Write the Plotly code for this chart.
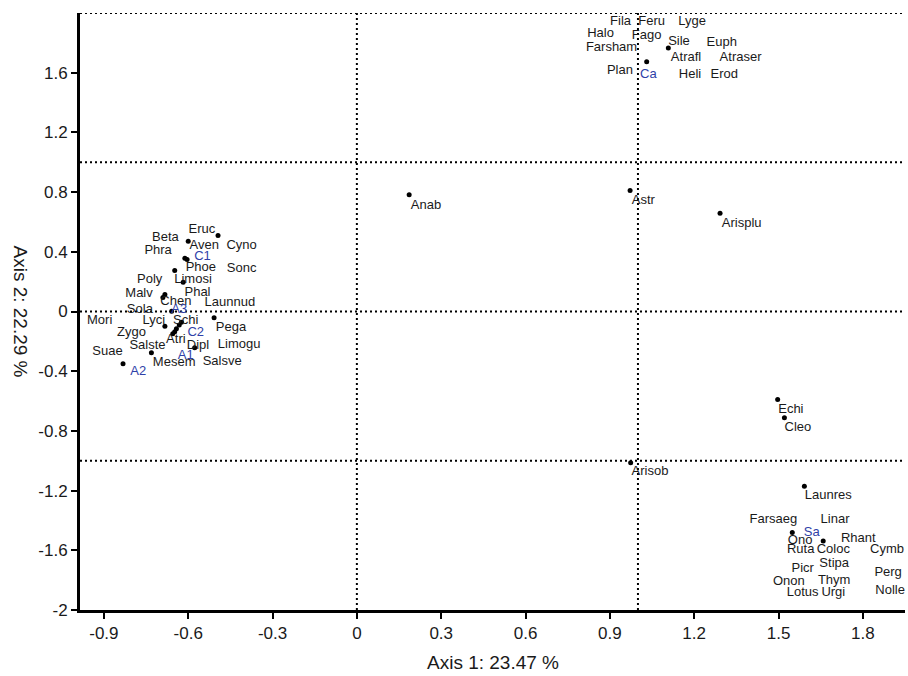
import plotly.graph_objects as go

# Ordination scores plotted as dots (species / site scores)
dot_x = [-0.494, -0.600, -0.612, -0.604, -0.648, -0.618, -0.683, -0.690, -0.659,
         -0.683, -0.624, -0.632, -0.642, -0.648, -0.655, -0.508, -0.577, -0.731, -0.832,
         0.186, 0.972, 1.292, 1.497, 1.521, 0.974, 1.592,
         1.108, 1.031, 1.549, 1.659]
dot_y = [0.509, 0.471, 0.357, 0.348, 0.274, 0.196, 0.114, 0.094, 0.002,
         -0.098, -0.072, -0.090, -0.116, -0.135, -0.149, -0.042, -0.243, -0.276, -0.350,
         0.783, 0.810, 0.658, -0.589, -0.712, -1.013, -1.171,
         1.765, 1.673, -1.481, -1.537]

# Species labels (axis-1, axis-2 coordinates of each label)
species = ["Eruc", "Beta", "Aven", "Cyno", "Phra", "Phoe", "Sonc", "Poly", "Limosi",
           "Malv", "Phal", "Chen", "Launnud", "Sola", "Mori", "Lyci", "Schi", "Pega",
           "Zygo", "Atri", "Salste", "Dipl", "Limogu", "Suae", "Mesem", "Salsve",
           "Anab", "Astr", "Arisplu", "Echi", "Cleo", "Arisob",
           "Fila", "Feru", "Lyge", "Halo", "Fago", "Sile", "Euph", "Farsham",
           "Atrafl", "Atraser", "Plan", "Heli", "Erod",
           "Launres", "Farsaeg", "Linar", "Rhant", "Ono", "Ruta", "Coloc", "Cymb",
           "Picr", "Stipa", "Perg", "Onon", "Thym", "Lotus", "Urgi", "Nolle"]
species_x = [-0.551, -0.681, -0.543, -0.410, -0.707, -0.555, -0.410, -0.737, -0.583,
             -0.775, -0.567, -0.644, -0.452, -0.772, -0.915, -0.722, -0.609, -0.448,
             -0.802, -0.644, -0.745, -0.565, -0.419, -0.887, -0.650, -0.479,
             0.246, 1.019, 1.369, 1.544, 1.569, 1.043,
             0.938, 1.049, 1.193, 0.867, 1.031, 1.146, 1.298, 0.906,
             1.171, 1.365, 0.936, 1.185, 1.307,
             1.677, 1.482, 1.701, 1.784, 1.577, 1.579, 1.695, 1.886,
             1.586, 1.698, 1.890, 1.537, 1.698, 1.586, 1.695, 1.897]
species_y = [0.549, 0.491, 0.442, 0.442, 0.408, 0.292, 0.286, 0.214, 0.214,
             0.122, 0.125, 0.067, 0.058, 0.013, -0.060, -0.060, -0.060, -0.109,
             -0.139, -0.189, -0.232, -0.228, -0.223, -0.268, -0.346, -0.339,
             0.710, 0.743, 0.591, -0.656, -0.776, -1.076,
             1.943, 1.943, 1.943, 1.859, 1.847, 1.809, 1.803, 1.769,
             1.702, 1.702, 1.613, 1.586, 1.586,
             -1.236, -1.392, -1.392, -1.521, -1.537, -1.593, -1.593, -1.593,
             -1.722, -1.693, -1.749, -1.812, -1.805, -1.885, -1.885, -1.872]

# Site-group labels
sites = ["C1", "A3", "C2", "A1", "A2", "Ca", "Sa"]
sites_x = [-0.549, -0.632, -0.573, -0.609, -0.778, 1.037, 1.618]
sites_y = [0.368, 0.013, -0.139, -0.299, -0.406, 1.586, -1.481]

# Axis ticks
x_ticks = [-0.9, -0.6, -0.3, 0, 0.3, 0.6, 0.9, 1.2, 1.5, 1.8]
x_tick_text = ["-0.9", "-0.6", "-0.3", "0", "0.3", "0.6", "0.9", "1.2", "1.5", "1.8"]
y_ticks = [-2, -1.6, -1.2, -0.8, -0.4, 0, 0.4, 0.8, 1.2, 1.6]
y_tick_text = ["-2", "-1.6", "-1.2", "-0.8", "-0.4", "0", "0.4", "0.8", "1.2", "1.6"]

# Reference lines
h_lines = [2, 1, 0, -1]
v_lines = [0, 1]

X_RANGE = [-0.985, 1.95]
Y_RANGE = [-2, 2]

fig = go.Figure()

dotted = dict(color="black", width=2, dash="2px,3px")
for yv in h_lines:
    fig.add_shape(type="line", x0=X_RANGE[0], x1=X_RANGE[1], y0=yv, y1=yv,
                  xref="x", yref="y", line=dotted, layer="below")
for xv in v_lines:
    fig.add_shape(type="line", x0=xv, x1=xv, y0=Y_RANGE[0], y1=Y_RANGE[1],
                  xref="x", yref="y", line=dotted, layer="below")

fig.add_trace(go.Scatter(
    x=dot_x, y=dot_y, mode="markers",
    marker=dict(color="black", size=5),
    hoverinfo="skip", showlegend=False, cliponaxis=False))

fig.add_trace(go.Scatter(
    x=species_x, y=species_y, mode="text", text=species,
    textposition="middle center",
    textfont=dict(family="Liberation Sans, Arial, sans-serif", size=13, color="#1a1a1a"),
    hoverinfo="skip", showlegend=False, cliponaxis=False))

fig.add_trace(go.Scatter(
    x=sites_x, y=sites_y, mode="text", text=sites,
    textposition="middle center",
    textfont=dict(family="Liberation Sans, Arial, sans-serif", size=13, color="#2f3fa8"),
    hoverinfo="skip", showlegend=False, cliponaxis=False))

fig.update_layout(
    width=908, height=676,
    margin=dict(l=80, r=3, t=13, b=66),
    paper_bgcolor="white", plot_bgcolor="white",
    font=dict(family="Liberation Sans, Arial, sans-serif", color="#1a1a1a"),
    xaxis=dict(range=X_RANGE, tickvals=x_ticks, ticktext=x_tick_text,
               showgrid=False, zeroline=False,
               showline=True, linecolor="black", linewidth=3,
               ticks="outside", ticklen=6, tickwidth=2, tickcolor="black",
               tickfont=dict(size=17, color="#1a1a1a")),
    yaxis=dict(range=Y_RANGE, tickvals=y_ticks, ticktext=y_tick_text,
               showgrid=False, zeroline=False,
               showline=True, linecolor="black", linewidth=3,
               ticks="outside", ticklen=6, tickwidth=2, tickcolor="black",
               tickfont=dict(size=17, color="#1a1a1a")),
    annotations=[
        dict(text="Axis 1: 23.47 %", xref="paper", yref="paper", x=0.5, y=0,
             yshift=-52, xanchor="center", yanchor="middle", showarrow=False,
             font=dict(size=19, color="#1a1a1a")),
        dict(text="Axis 2: 22.29 %", xref="paper", yref="paper", x=0, y=0.5,
             xshift=-60, xanchor="center", yanchor="middle", showarrow=False,
             textangle=90, font=dict(size=19, color="#1a1a1a")),
    ],
)

fig.write_html("out.html")
